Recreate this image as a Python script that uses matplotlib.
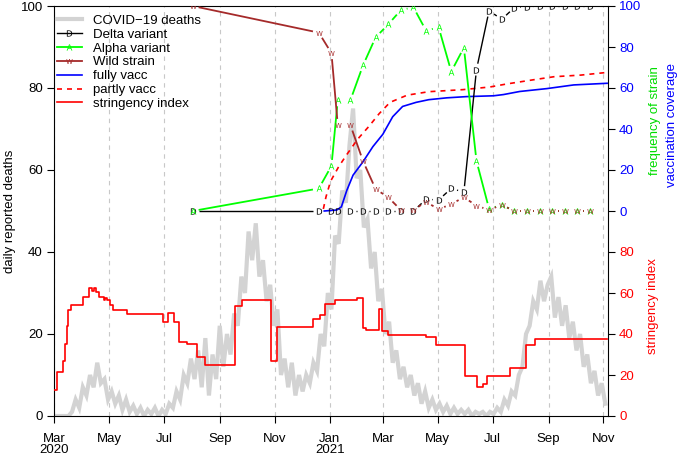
import numpy as np
import pandas as pd
import matplotlib
matplotlib.use('Agg')
import matplotlib.pyplot as plt
import matplotlib.dates as mdates
from matplotlib.lines import Line2D

plt.rcParams['font.family'] = ['Liberation Sans', 'DejaVu Sans']

# daily reported deaths, read every 4 days starting 2020-03-01
deaths_start = '2020-03-01'
deaths = [0, 0, 0, 0, 0, 1, 4, 2, 7, 5, 10, 7, 13, 8, 9, 4, 6, 3, 5, 1.5,
          4, 1, 2.5, 0.5, 2, 0, 1.5, 0.5, 2, 0, 1.5, 0.5, 3, 2, 6, 4, 10, 8, 14, 9,
          16, 7, 19, 5, 15, 9, 22, 12, 20, 15, 25, 22, 34, 30, 45, 38, 47, 34, 38, 28,
          32, 22, 26, 10, 14, 7, 13, 5, 10, 6, 10, 8, 13, 11, 20, 17, 30, 26, 44, 42,
          55, 52, 66, 75, 58, 60, 46, 48, 36, 40, 28, 31, 20, 23, 13, 16, 9, 12, 7, 10,
          5, 8, 3, 6, 2, 4, 1.5, 3, 1, 2.5, 0.5, 2, 0.5, 1.5, 0.5, 1.5, 0, 1, 0.5, 1,
          0, 1, 0.5, 2, 1, 4, 2.5, 6, 5, 10, 12, 20, 22, 28, 26, 33, 28, 32, 34, 24,
          29, 22, 27, 19, 23, 16, 20, 12, 15, 8, 11, 5, 8, 3]

# strain frequencies (%)
strain_dates = ['2020-08-02', '2020-12-20', '2021-01-03', '2021-01-10', '2021-01-24',
                '2021-02-07', '2021-02-21', '2021-03-07', '2021-03-21', '2021-04-04',
                '2021-04-18', '2021-05-02', '2021-05-16', '2021-05-30', '2021-06-13',
                '2021-06-27', '2021-07-11', '2021-07-25', '2021-08-08', '2021-08-22',
                '2021-09-05', '2021-09-19', '2021-10-03', '2021-10-17']
delta = [0, 0, 0, 0, 0, 0, 0, 0, 0, 0, 5.7, 5.4, 11, 9.2, 69, 97.7, 93.5, 99.2,
         99.6, 100, 100, 100, 100, 100]
alpha = [0, 11, 22, 54, 54, 71, 84.7, 91, 98, 99.4, 88, 89.6, 68, 79.7, 24.4, 1, 3,
         0, 0, 0, 0, 0, 0, 0]
wild = [100, 87, 77, 42, 42, 24.4, 10.7, 6.7, 0.5, 0.5, 4.5, 0.8, 3.4, 6.7, 2.6, 0.5,
        3, 0, 0, 0, 0, 0, 0, 0]

# vaccination coverage (%)
full_dates = ['2020-12-26', '2021-01-09', '2021-01-14', '2021-01-20', '2021-01-27',
              '2021-02-07', '2021-02-18', '2021-03-01', '2021-03-12', '2021-03-23',
              '2021-04-07', '2021-04-21', '2021-05-11', '2021-06-02', '2021-07-02',
              '2021-07-13', '2021-07-31', '2021-08-30', '2021-09-29', '2021-11-05']
full_vacc = [0, 0.5, 2, 10, 17.5, 24, 31.4, 37.4, 46, 51, 53, 54.3, 55.2, 55.8,
             56.2, 56.8, 58.3, 59.7, 61.5, 62.3]
part_dates = ['2020-12-25', '2020-12-28', '2021-01-02', '2021-01-11', '2021-01-20',
              '2021-02-01', '2021-02-14', '2021-02-25', '2021-03-09', '2021-03-28',
              '2021-04-21', '2021-05-29', '2021-06-28', '2021-07-17', '2021-08-15',
              '2021-09-07', '2021-10-07', '2021-11-05']
part_vacc = [1, 7, 14.5, 21.6, 27.5, 35, 41.5, 47.5, 53, 56.5, 58.2, 59.2, 60.5,
             62, 64, 65.5, 66.3, 67.6]

# stringency index, value from each date on
string_dates = ['2020-03-01', '2020-03-04', '2020-03-11', '2020-03-13', '2020-03-15',
                '2020-03-17', '2020-03-20', '2020-04-02', '2020-04-09', '2020-04-12',
                '2020-04-14', '2020-04-17', '2020-04-20', '2020-04-25', '2020-04-27',
                '2020-04-29', '2020-05-02', '2020-05-05', '2020-05-21', '2020-06-30',
                '2020-07-06', '2020-07-12', '2020-07-18', '2020-07-27', '2020-08-07',
                '2020-08-16', '2020-09-18', '2020-09-26', '2020-10-28', '2020-11-04',
                '2020-12-14', '2020-12-21', '2020-12-27', '2021-01-07', '2021-01-31',
                '2021-02-07', '2021-02-10', '2021-02-25', '2021-02-28', '2021-03-07',
                '2021-04-18', '2021-04-29', '2021-05-31', '2021-06-14', '2021-06-20',
                '2021-06-25', '2021-07-20', '2021-08-07', '2021-08-17', '2021-11-05']
stringency = [12.5, 21.6, 27, 35, 44, 51.7, 54.1, 58.2, 62.6, 61.1,
              62.6, 60.6, 58.2, 56.6, 57.7, 56.6, 54.1, 51.7, 49.6, 45.7,
              50.1, 45.7, 36, 35, 28.6, 24.9, 53.8, 56.6, 26.6, 43.6,
              47.2, 49.3, 54.4, 56.6, 57.7, 42.8, 42, 52, 41.6, 39.6,
              38.6, 34.6, 19.5, 14.3, 15.6, 19.5, 23.3, 34.6, 37.4, 37.4]

month_ticks = ['2020-03-01', '2020-05-01', '2020-07-01', '2020-09-01', '2020-11-01',
               '2021-01-01', '2021-03-01', '2021-05-01', '2021-07-01', '2021-09-01',
               '2021-11-01']
month_labels = ['Mar\n2020', 'May', 'Jul', 'Sep', 'Nov', 'Jan\n2021', 'Mar', 'May',
                'Jul', 'Sep', 'Nov']


def linha_com_gap(ax, datas, valores, cor, lw, gap=6):
    # segmentos cortados perto de cada ponto, como o type="b" do R
    x = mdates.date2num(pd.to_datetime(datas))
    pts = ax.transData.transform(np.column_stack([x, valores]))
    inv = ax.transData.inverted()
    for p, q in zip(pts[:-1], pts[1:]):
        d = q - p
        L = np.hypot(d[0], d[1])
        if L <= 2 * gap:
            continue
        u = d / L
        a, b = inv.transform(np.array([p + u * gap, q - u * gap]))
        ax.plot([a[0], b[0]], [a[1], b[1]], color=cor, lw=lw, solid_capstyle='butt')


def main():
    fig = plt.figure(figsize=(6.8, 4.57), dpi=100)
    ax = fig.add_axes([54 / 680, 41 / 457, 554 / 680, 410 / 457])
    ax2 = ax.twinx()
    ax3 = ax.twinx()

    xmin = mdates.date2num(pd.Timestamp('2020-03-01'))
    xmax = mdates.date2num(pd.Timestamp('2021-11-06'))
    for a in (ax, ax2, ax3):
        a.set_xlim(xmin, xmax)
    ax.set_ylim(0, 100)
    ax2.set_ylim(-100, 100)
    ax3.set_ylim(0, 200)

    # mortes
    datas_mortes = pd.date_range(deaths_start, periods=len(deaths), freq='4D')
    ax.plot(datas_mortes, deaths, color='#D3D3D3', lw=3.0, solid_joinstyle='miter')

    # indice de restricao
    ax3.plot(pd.to_datetime(string_dates), stringency, drawstyle='steps-post',
             color='red', lw=1.2)

    # vacinacao
    ax2.plot(pd.to_datetime(full_dates), full_vacc, color='blue', lw=1.2)
    ax2.plot(pd.to_datetime(part_dates), part_vacc, color='red', lw=1.2,
             dashes=(3, 3))

    # variantes
    variantes = [(delta, 'black', r'$\mathsf{D}$', 1.0),
                 (alpha, '#00FF00', r'$\mathsf{A}$', 1.3),
                 (wild, '#A52A2A', r'$\mathsf{W}$', 1.3)]
    for valores, cor, marca, lw in variantes:
        linha_com_gap(ax2, strain_dates, valores, cor, lw)
        ax2.plot(pd.to_datetime(strain_dates), valores, ls='none', marker=marca,
                 ms=4.5, color=cor, mew=0)

    # eixos
    ax.set_xticks(mdates.date2num(pd.to_datetime(month_ticks)))
    ax.set_xticklabels(month_labels, linespacing=0.95)
    ax.grid(axis='x', color='#C8C8C8', lw=0.8, dashes=(4, 4))
    ax.set_yticks(range(0, 101, 20))
    ax.tick_params(length=5, width=0.8, labelsize=9.5, pad=3)
    ax.tick_params(axis='x', pad=7)
    ax.spines['right'].set_visible(False)

    ax2.set_yticks(range(0, 101, 20))
    ax2.tick_params(axis='y', length=5, width=0.8, labelsize=9.5, labelcolor='blue', pad=3)
    ax3.set_yticks(range(0, 81, 20))
    ax3.tick_params(axis='y', length=5, width=0.8, labelsize=9.5, labelcolor='red', pad=3)
    for s in ('top', 'left', 'bottom'):
        ax2.spines[s].set_visible(False)
        ax3.spines[s].set_visible(False)
    ax3.spines['right'].set_visible(False)

    fig.text(10 / 680, 1 - 211 / 457, 'daily reported deaths', rotation=90,
             ha='center', va='center', fontsize=9.5)
    fig.text(655 / 680, 1 - 121 / 457, 'frequency of strain', rotation=90,
             ha='center', va='center', fontsize=9.5, color='#00DD00')
    fig.text(672 / 680, 1 - 125 / 457, 'vaccination coverage', rotation=90,
             ha='center', va='center', fontsize=9.5, color='blue')
    fig.text(653 / 680, 1 - 306 / 457, 'stringency index', rotation=90,
             ha='center', va='center', fontsize=9.5, color='red')

    # legenda
    handles = [Line2D([], [], color='#D3D3D3', lw=3.0),
               Line2D([], [], color='black', lw=1.0, marker=r'$\mathsf{D}$', ms=4.5, mew=0),
               Line2D([], [], color='#00FF00', lw=1.3, marker=r'$\mathsf{A}$', ms=4.5, mew=0),
               Line2D([], [], color='#A52A2A', lw=1.3, marker=r'$\mathsf{W}$', ms=4.5, mew=0),
               Line2D([], [], color='blue', lw=1.2),
               Line2D([], [], color='red', lw=1.2, dashes=(3, 3)),
               Line2D([], [], color='red', lw=1.2)]
    labels = ['COVID\u221219 deaths', 'Delta variant', 'Alpha variant', 'Wild strain',
              'fully vacc', 'partly vacc', 'stringency index']
    ax3.legend(handles, labels, loc='upper left', bbox_to_anchor=(0.0, 0.985),
               frameon=False, fontsize=9.5, handlelength=1.9, handletextpad=0.85,
               labelspacing=0.12, borderpad=0.2, borderaxespad=0)

    plt.savefig('out.png', dpi=100)


if __name__ == "__main__":
    main()
